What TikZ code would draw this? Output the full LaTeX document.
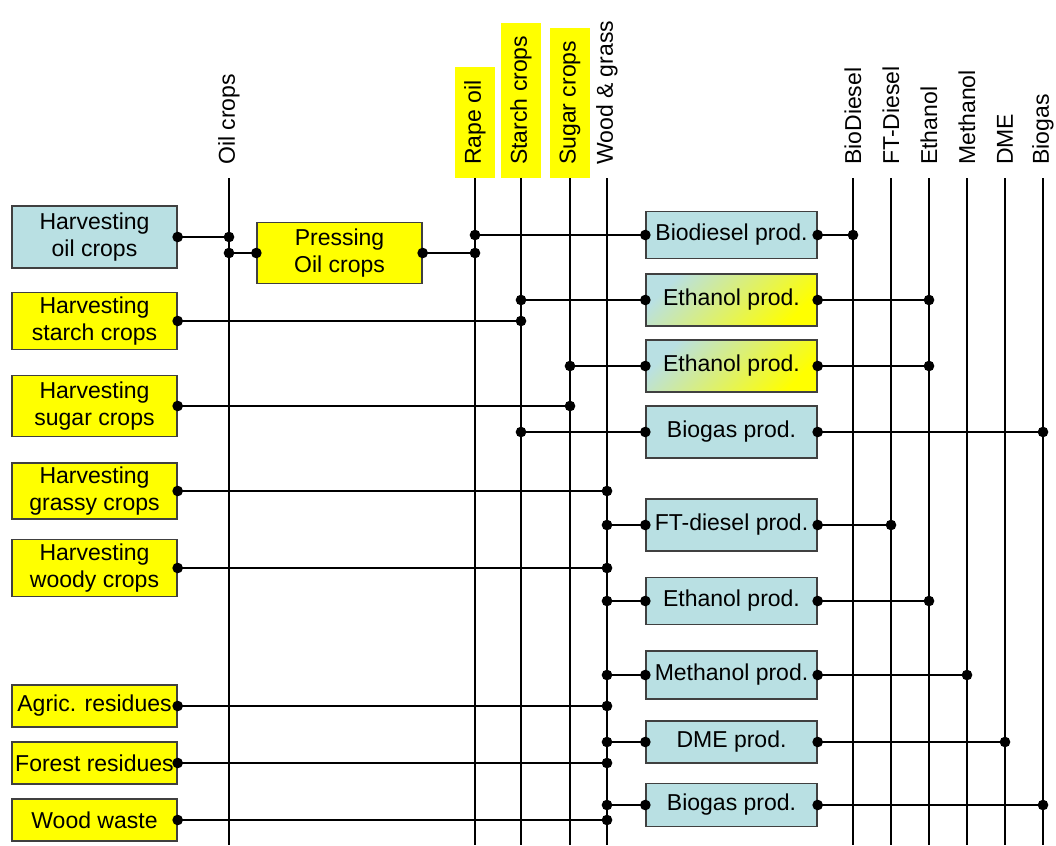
\documentclass[tikz,border=0pt]{standalone}
\usepackage{fontspec}
\setmainfont{Liberation Sans}
\usetikzlibrary{arrows.meta}
\definecolor{boxblue}{RGB}{185,224,227}
\definecolor{boxyellow}{RGB}{255,255,0}
\begin{document}
\begin{tikzpicture}[x=1pt, y=-1pt,
  font=\fontsize{23}{27}\selectfont,
  unit/.style={draw=black!75, line width=1.3pt, inner sep=0pt, align=center},
  src/.style={unit, fill=boxyellow, minimum width=165pt},
  prod/.style={unit, fill=boxblue, minimum width=171pt},
  mixed/.style={unit, top color=boxblue, bottom color=boxyellow, shading angle=45, minimum width=171pt},
  bus/.style={line width=1.4pt},
  busname/.style={rotate=90, anchor=west, inner xsep=13pt, minimum height=40pt, inner ysep=0pt},
  link/.style={line width=1.9pt, {Circle[length=10.5pt]}-{Circle[length=10.5pt]},
    shorten <=-5.25pt, shorten >=-5.25pt}]
\useasboundingbox (0,0) rectangle (1056,845);
% bus lines
\foreach \name/\x in {oil/229, rape/475, starch/521, sugar/570, wood/607,
    bd/853, ftd/891, eth/929, meth/967, dme/1005, bgas/1043}
  \coordinate (\name) at (\x,178);
\foreach \name in {oil, rape, starch, sugar, wood, bd, ftd, eth, meth, dme, bgas}
  \draw[bus] (\name) -- (\name |- 0,845);
\node[busname] at (oil) {Oil crops};
\node[busname, fill=boxyellow] at (rape) {Rape oil};
\node[busname, fill=boxyellow] at (starch) {Starch crops};
\node[busname, fill=boxyellow] at (sugar) {Sugar crops};
\node[busname] at (wood) {Wood \& grass};
\node[busname] at (bd) {BioDiesel};
\node[busname] at (ftd) {FT-Diesel};
\node[busname] at (eth) {Ethanol};
\node[busname] at (meth) {Methanol};
\node[busname] at (dme) {DME};
\node[busname] at (bgas) {Biogas};
% sources
\node[src, fill=boxblue, minimum height=62pt] (hoil) at (94.5,237) {Harvesting\\oil crops};
\node[src, minimum height=57pt] (hstarch) at (94.5,321) {Harvesting\\starch crops};
\node[src, minimum height=61pt] (hsugar) at (94.5,406) {Harvesting\\sugar crops};
\node[src, minimum height=56pt] (hgrass) at (94.5,491) {Harvesting\\grassy crops};
\node[src, minimum height=57pt] (hwood) at (94.5,568) {Harvesting\\woody crops};
\node[src, minimum height=42pt] (agric) at (94.5,706) {Agric. residues};
\node[src, minimum height=42pt] (forest) at (94.5,763) {Forest residues};
\node[src, minimum height=42pt] (waste) at (94.5,820) {Wood waste};
\node[src, minimum height=61pt] (press) at (339.5,253) {Pressing\\Oil crops};
% conversion
\node[prod, minimum height=47pt] (bdp) at (731.5,235) {Biodiesel prod.};
\node[mixed, minimum height=52pt] (eth1) at (731.5,300) {Ethanol prod.};
\node[mixed, minimum height=52pt] (eth2) at (731.5,366) {Ethanol prod.};
\node[prod, minimum height=52pt] (bgp1) at (731.5,432) {Biogas prod.};
\node[prod, minimum height=52pt] (ftp) at (731.5,525) {FT-diesel prod.};
\node[prod, minimum height=47pt] (eth3) at (731.5,601) {Ethanol prod.};
\node[prod, minimum height=48pt] (metp) at (731.5,675) {Methanol prod.};
\node[prod, minimum height=42pt] (dmep) at (731.5,742) {DME prod.};
\node[prod, minimum height=43pt] (bgp2) at (731.5,805) {Biogas prod.};
% links
\foreach \a/\b in {hoil/oil, hstarch/starch, hsugar/sugar, hgrass/wood, hwood/wood,
    agric/wood, forest/wood, waste/wood, press/rape}
  \draw[link] (\a.east) -- (\a.east -| \b);
\draw[link] (press.west -| oil) -- (press.west);
\foreach \p/\i/\o in {bdp/rape/bd, eth1/starch/eth, eth2/sugar/eth, bgp1/starch/bgas,
    ftp/wood/ftd, eth3/wood/eth, metp/wood/meth, dmep/wood/dme, bgp2/wood/bgas} {
  \draw[link] (\p.west -| \i) -- (\p.west);
  \draw[link] (\p.east) -- (\p.east -| \o);
}
\end{tikzpicture}
\end{document}
